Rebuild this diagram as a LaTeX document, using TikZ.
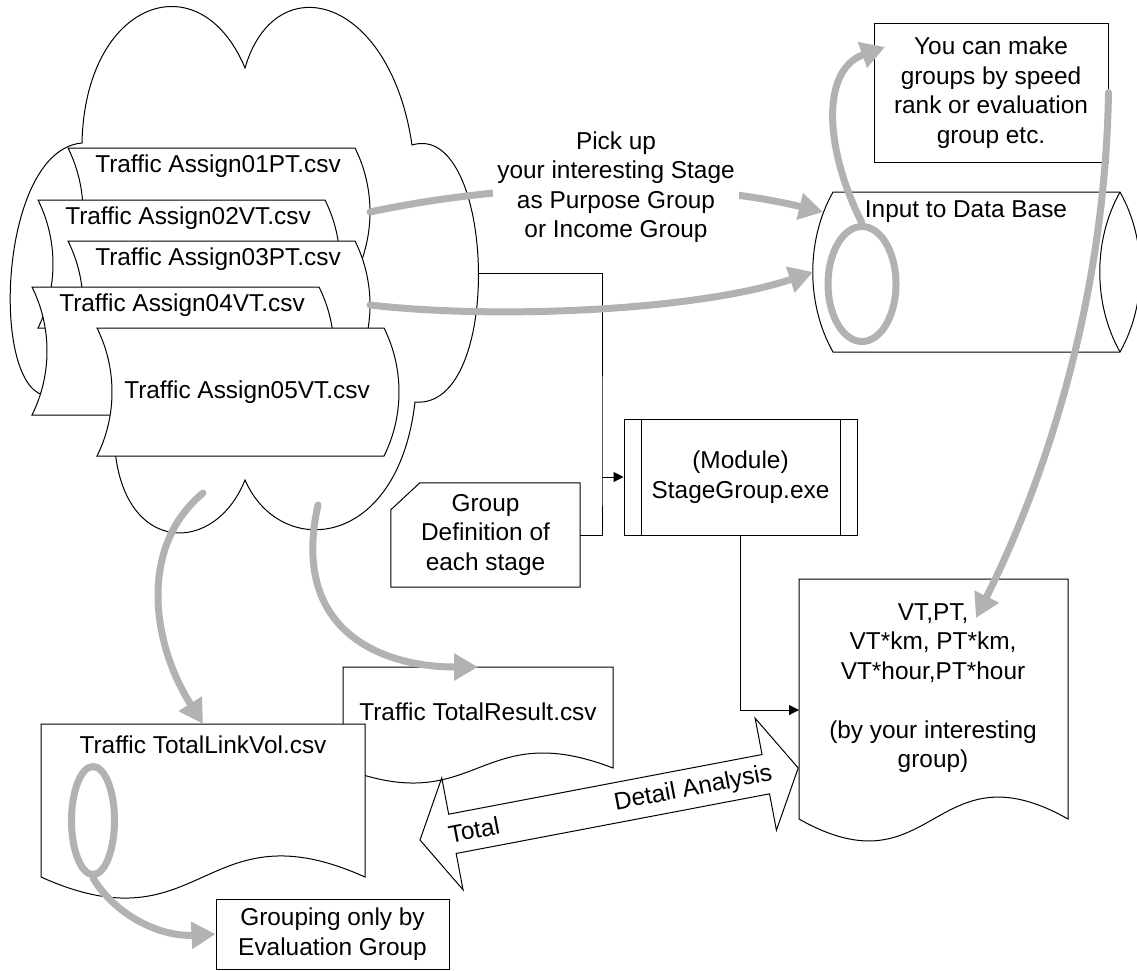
\documentclass[tikz,border=0pt]{standalone}
\usepackage{fontspec}
\setmainfont{Liberation Sans}
\usepackage{xcolor}
\usetikzlibrary{arrows.meta,shapes.geometric,calc}
\definecolor{flowgray}{RGB}{178,178,178}

\begin{document}
\begin{tikzpicture}[x=1pt, y=-1pt,
    every node/.style={font=\fontsize{24.4}{29.5}\selectfont, align=center, inner sep=0pt},
    box/.style={draw, line width=1pt, fill=white},
    outline/.style={draw, line width=1pt, fill=white},
    thinline/.style={line width=1pt},
    link/.style={line width=1pt, -{Triangle[length=10pt, width=10pt]}},
    grayarrow/.style={draw=flowgray, line width=7pt, line cap=round, -{Triangle[length=24pt, width=26pt]}},
    grayloop/.style={draw=flowgray, line width=7pt, ellipse}
]
    \useasboundingbox (0,0) rectangle (1137,970);

    \draw[outline] (82,143) .. controls (85,0) and (200,-40) .. (245,68)
        .. controls (275,-35) and (390,-5) .. (412,145)
        .. controls (495,120) and (505,410) .. (415,402)
        .. controls (398,550) and (280,560) .. (245,480)
        .. controls (215,555) and (125,555) .. (115,450)
        -- (115,405) -- (43,395)
        .. controls (-10,380) and (0,150) .. (82,143) -- cycle;
    \coordinate (cloud-e) at (479,273);
    \coordinate (cloud-s1) at (203,493);
    \coordinate (cloud-s2) at (318,505);

    \foreach \x/\y/\ty/\nm/\txt in {68/148/18/as01/Traffic Assign01PT.csv,
                                    38/200/18/as02/Traffic Assign02VT.csv,
                                    68/241/18/as03/Traffic Assign03PT.csv,
                                    32/287/18/as04/Traffic Assign04VT.csv,
                                    97/328/64/as05/Traffic Assign05VT.csv}{
        \draw[outline] (\x,\y) -- ({\x+287},\y) .. controls ({\x+307},{\y+40}) and ({\x+307},{\y+88}) .. ({\x+287},{\y+128})
            -- (\x,{\y+128}) .. controls ({\x+20},{\y+88}) and ({\x+20},{\y+40}) .. (\x,\y) -- cycle;
        \node (\nm) at ({\x+150},{\y+\ty}) {\txt};
        \coordinate (\nm-e) at ({\x+302},{\y+64});
    }

    \draw[outline] (833,192) -- (1120,192) .. controls (1147,240) and (1147,304) .. (1120,352)
        -- (833,352) .. controls (806,304) and (806,240) .. (833,192) -- cycle;
    \draw[thinline] (1120,192) .. controls (1093,240) and (1093,304) .. (1120,352);
    \node (dbase) at (966,212) {Input to Data Base};
    \coordinate (dbase-in1) at (823,212);
    \coordinate (dbase-in2) at (813,272);

    \node[box, minimum width=234pt, minimum height=139pt] (youcan) at (991,92.5) {You can make\\groups by speed\\rank or evaluation\\group etc.};
    \coordinate (youcan-in) at (885,47);

    \node[box, minimum width=233pt, minimum height=116pt] (stage) at (740.5,477) {(Module)\\StageGroup.exe};
    \draw[thinline] ([xshift=18pt]stage.north west) -- ([xshift=18pt]stage.south west);
    \draw[thinline] ([xshift=-17pt]stage.north east) -- ([xshift=-17pt]stage.south east);

    \node[minimum width=189pt, minimum height=104pt] (groupdef) at (485.5,535) {Group\\Definition of\\each stage};
    \draw[thinline] ([xshift=29pt]groupdef.north west) -- (groupdef.north east) -- (groupdef.south east)
        -- (groupdef.south west) -- ([yshift=-27pt]groupdef.north west) -- cycle;

    \coordinate (join) at (602,477);
    \draw[thinline] (cloud-e) -| (join) |- (groupdef.east);
    \draw[link] (join) -- (stage.west);

    \draw[outline] (799,579) -- (1068,579) -- (1068,819) .. controls (933.5,743) and (933.5,895) .. (799,819) -- cycle;
    \node (vt) at (933,688) {VT,PT,\\VT*km, PT*km,\\VT*hour,PT*hour\\[29.5pt](by your interesting\\group)};
    \coordinate (vt-w) at (799,710);
    \coordinate (vt-in) at (976,618);
    \draw[link] (stage.south) |- (vt-w);

    \draw[outline] (343,667) -- (613,667) -- (613,768) .. controls (478,716) and (478,820) .. (343,768) -- cycle;
    \node (trs) at (478,712) {Traffic TotalResult.csv};
    \coordinate (trs-n) at (478,667);

    \draw[outline] (41,724) -- (365,724) -- (365,877) .. controls (203,804) and (203,950) .. (41,877) -- cycle;
    \node (tlv) at (203,745) {Traffic TotalLinkVol.csv};
    \coordinate (tlv-n) at (203,724);

    \node[box, minimum width=233pt, minimum height=70pt] (grouping) at (332.5,934) {Grouping only by\\Evaluation Group};

    \begin{scope}[shift={(420,840)}, rotate=10.78]
        \draw[outline] (0,0) -- (33,-57) -- (33,-20) -- (352,-20) -- (352,-57) -- (385,0)
            -- (352,57) -- (352,20) -- (33,20) -- (33,57) -- cycle;
        \node[transform shape] (total) at (55,0) {Total};
        \node[transform shape] (detail) at (278,1) {Detail Analysis};
    \end{scope}

    \draw[grayarrow] (as01-e) .. controls (520,180) and (690,180) .. (dbase-in1);
    \node[fill=white, inner sep=4pt] (pickup) at (616,187) {Pick up\\your interesting Stage\\as Purpose Group\\or Income Group};
    \draw[grayarrow] (as03-e) .. controls (500,320) and (700,310) .. (dbase-in2);

    \node[grayloop, minimum width=68pt, minimum height=115pt] (dbloop) at (862,284) {};
    \draw[grayarrow] (dbloop.north) .. controls (825,150) and (820,70) .. (youcan-in);
    \draw[grayarrow] (youcan.east) .. controls (1105,300) and (1045,480) .. (vt-in);

    \draw[grayarrow] (cloud-s1) .. controls (140,545) and (150,640) .. (tlv-n);
    \draw[grayarrow] (cloud-s2) .. controls (290,630) and (380,667) .. (trs-n);

    \node[grayloop, minimum width=43pt, minimum height=108pt] (tlloop) at (93,820.5) {};
    \draw[grayarrow] (tlloop.south) .. controls (115,915) and (160,937) .. (grouping.west);
\end{tikzpicture}
\end{document}
